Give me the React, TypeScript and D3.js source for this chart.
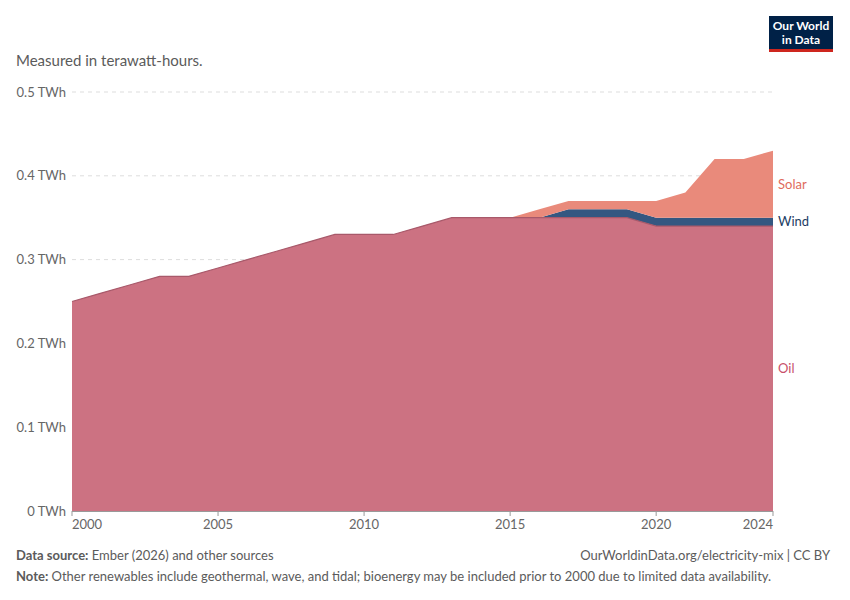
import React from 'react';
import * as d3 from 'd3';

const years = [
  2000, 2001, 2002, 2003, 2004, 2005, 2006, 2007, 2008, 2009, 2010, 2011, 2012,
  2013, 2014, 2015, 2016, 2017, 2018, 2019, 2020, 2021, 2022, 2023, 2024,
];
const oil = [
  0.25, 0.26, 0.27, 0.28, 0.28, 0.29, 0.3, 0.31, 0.32, 0.33, 0.33, 0.33, 0.34,
  0.35, 0.35, 0.35, 0.35, 0.35, 0.35, 0.35, 0.34, 0.34, 0.34, 0.34, 0.34,
];
const wind = [
  0, 0, 0, 0, 0, 0, 0, 0, 0, 0, 0, 0, 0,
  0, 0, 0, 0, 0.01, 0.01, 0.01, 0.01, 0.01, 0.01, 0.01, 0.01,
];
const solar = [
  0, 0, 0, 0, 0, 0, 0, 0, 0, 0, 0, 0, 0,
  0, 0, 0, 0.01, 0.01, 0.01, 0.01, 0.02, 0.03, 0.07, 0.07, 0.08,
];
const yTicks = [0, 0.1, 0.2, 0.3, 0.4, 0.5];
const xTicks = [2000, 2005, 2010, 2015, 2020, 2024];

const seriesKeys = ['Oil', 'Wind', 'Solar'];
const fills: Record<string, string> = { Oil: '#cc7282', Wind: '#345781', Solar: '#e98a7b' };
const labelColors: Record<string, string> = { Oil: '#c8506a', Wind: '#1c3c63', Solar: '#e06b5c' };

const W = 850;
const H = 600;
const FONT = 'Lato, "Noto Sans", sans-serif';

const App: React.FC = () => {
  const x = d3.scaleLinear().domain([2000, 2024]).range([72, 773]);
  const y = d3.scaleLinear().domain([0, 0.5]).range([511, 92]);

  const rows = years.map((yr, i) => ({ year: yr, Oil: oil[i], Wind: wind[i], Solar: solar[i] }));
  const stacked = d3.stack<any>().keys(seriesKeys)(rows);

  const area = d3
    .area<any>()
    .x((d) => x(d.data.year))
    .y0((d) => y(d[0]))
    .y1((d) => y(d[1]));
  const topLine = d3
    .line<any>()
    .x((d) => x(d.data.year))
    .y((d) => y(d[1]));

  // label positions: middle of each band at the last year
  const last = years.length - 1;
  const labelY = (k: number) => {
    const s = stacked[k][last];
    return y((s[0] + s[1]) / 2);
  };
  const labelPos: Record<string, number> = {
    Oil: labelY(0),
    Wind: labelY(1),
    Solar: labelY(2),
  };

  return (
    <svg width={W} height={H} style={{ display: 'block', margin: -8, fontFamily: FONT }}>
      <rect width={W} height={H} fill="#fff" />

      {/* logo */}
      <rect x={769} y={16} width={64} height={34} fill="#002147" />
      <rect x={769} y={49} width={64} height={3} fill="#ce261e" />
      <text x={801} y={30} textAnchor="middle" fill="#fff" fontSize={12} fontWeight={700}>Our World</text>
      <text x={801} y={44} textAnchor="middle" fill="#fff" fontSize={12} fontWeight={700}>in Data</text>

      <text x={16} y={66} fontSize={15} fill="#5b5b5b">Measured in terawatt-hours.</text>

      {/* grid + y labels */}
      {yTicks.map((t) => (
        <g key={t}>
          {t > 0 && (
            <line x1={72} x2={773} y1={y(t)} y2={y(t)} stroke="#dddddd" strokeDasharray="4,4" />
          )}
          <text x={66} y={y(t) + 4.5} textAnchor="end" fontSize={13} fill="#666">
            {`${d3.format('')(t)} TWh`}
          </text>
        </g>
      ))}

      {/* areas */}
      {stacked.map((s) => (
        <path key={s.key} d={area(s) || ''} fill={fills[s.key]} />
      ))}
      <path d={topLine(stacked[0]) || ''} fill="none" stroke="#a8596a" strokeWidth={1.2} />

      {/* x axis */}
      <line x1={72} x2={773} y1={511.5} y2={511.5} stroke="#999" />
      {xTicks.map((t, i) => (
        <g key={t}>
          <line x1={x(t)} x2={x(t)} y1={511} y2={516} stroke="#999" />
          <text
            x={x(t)}
            y={529}
            fontSize={13}
            fill="#666"
            textAnchor={i === 0 ? 'start' : i === xTicks.length - 1 ? 'end' : 'middle'}
          >
            {t}
          </text>
        </g>
      ))}

      {/* series labels */}
      {seriesKeys.map((k) => (
        <text key={k} x={778} y={labelPos[k] + 4.5} fontSize={13} fill={labelColors[k]}>
          {k}
        </text>
      ))}

      {/* footer */}
      <text x={16} y={560} fontSize={13} fill="#5b5b5b">
        <tspan fontWeight={700}>Data source:</tspan> Ember (2026) and other sources
      </text>
      <text x={830} y={560} fontSize={13} fill="#5b5b5b" textAnchor="end">
        OurWorldinData.org/electricity-mix | CC BY
      </text>
      <text x={16} y={581} fontSize={13} fill="#5b5b5b">
        <tspan fontWeight={700}>Note:</tspan> Other renewables include geothermal, wave, and tidal; bioenergy may be included prior to 2000 due to limited data availability.
      </text>
    </svg>
  );
};

export default App;
